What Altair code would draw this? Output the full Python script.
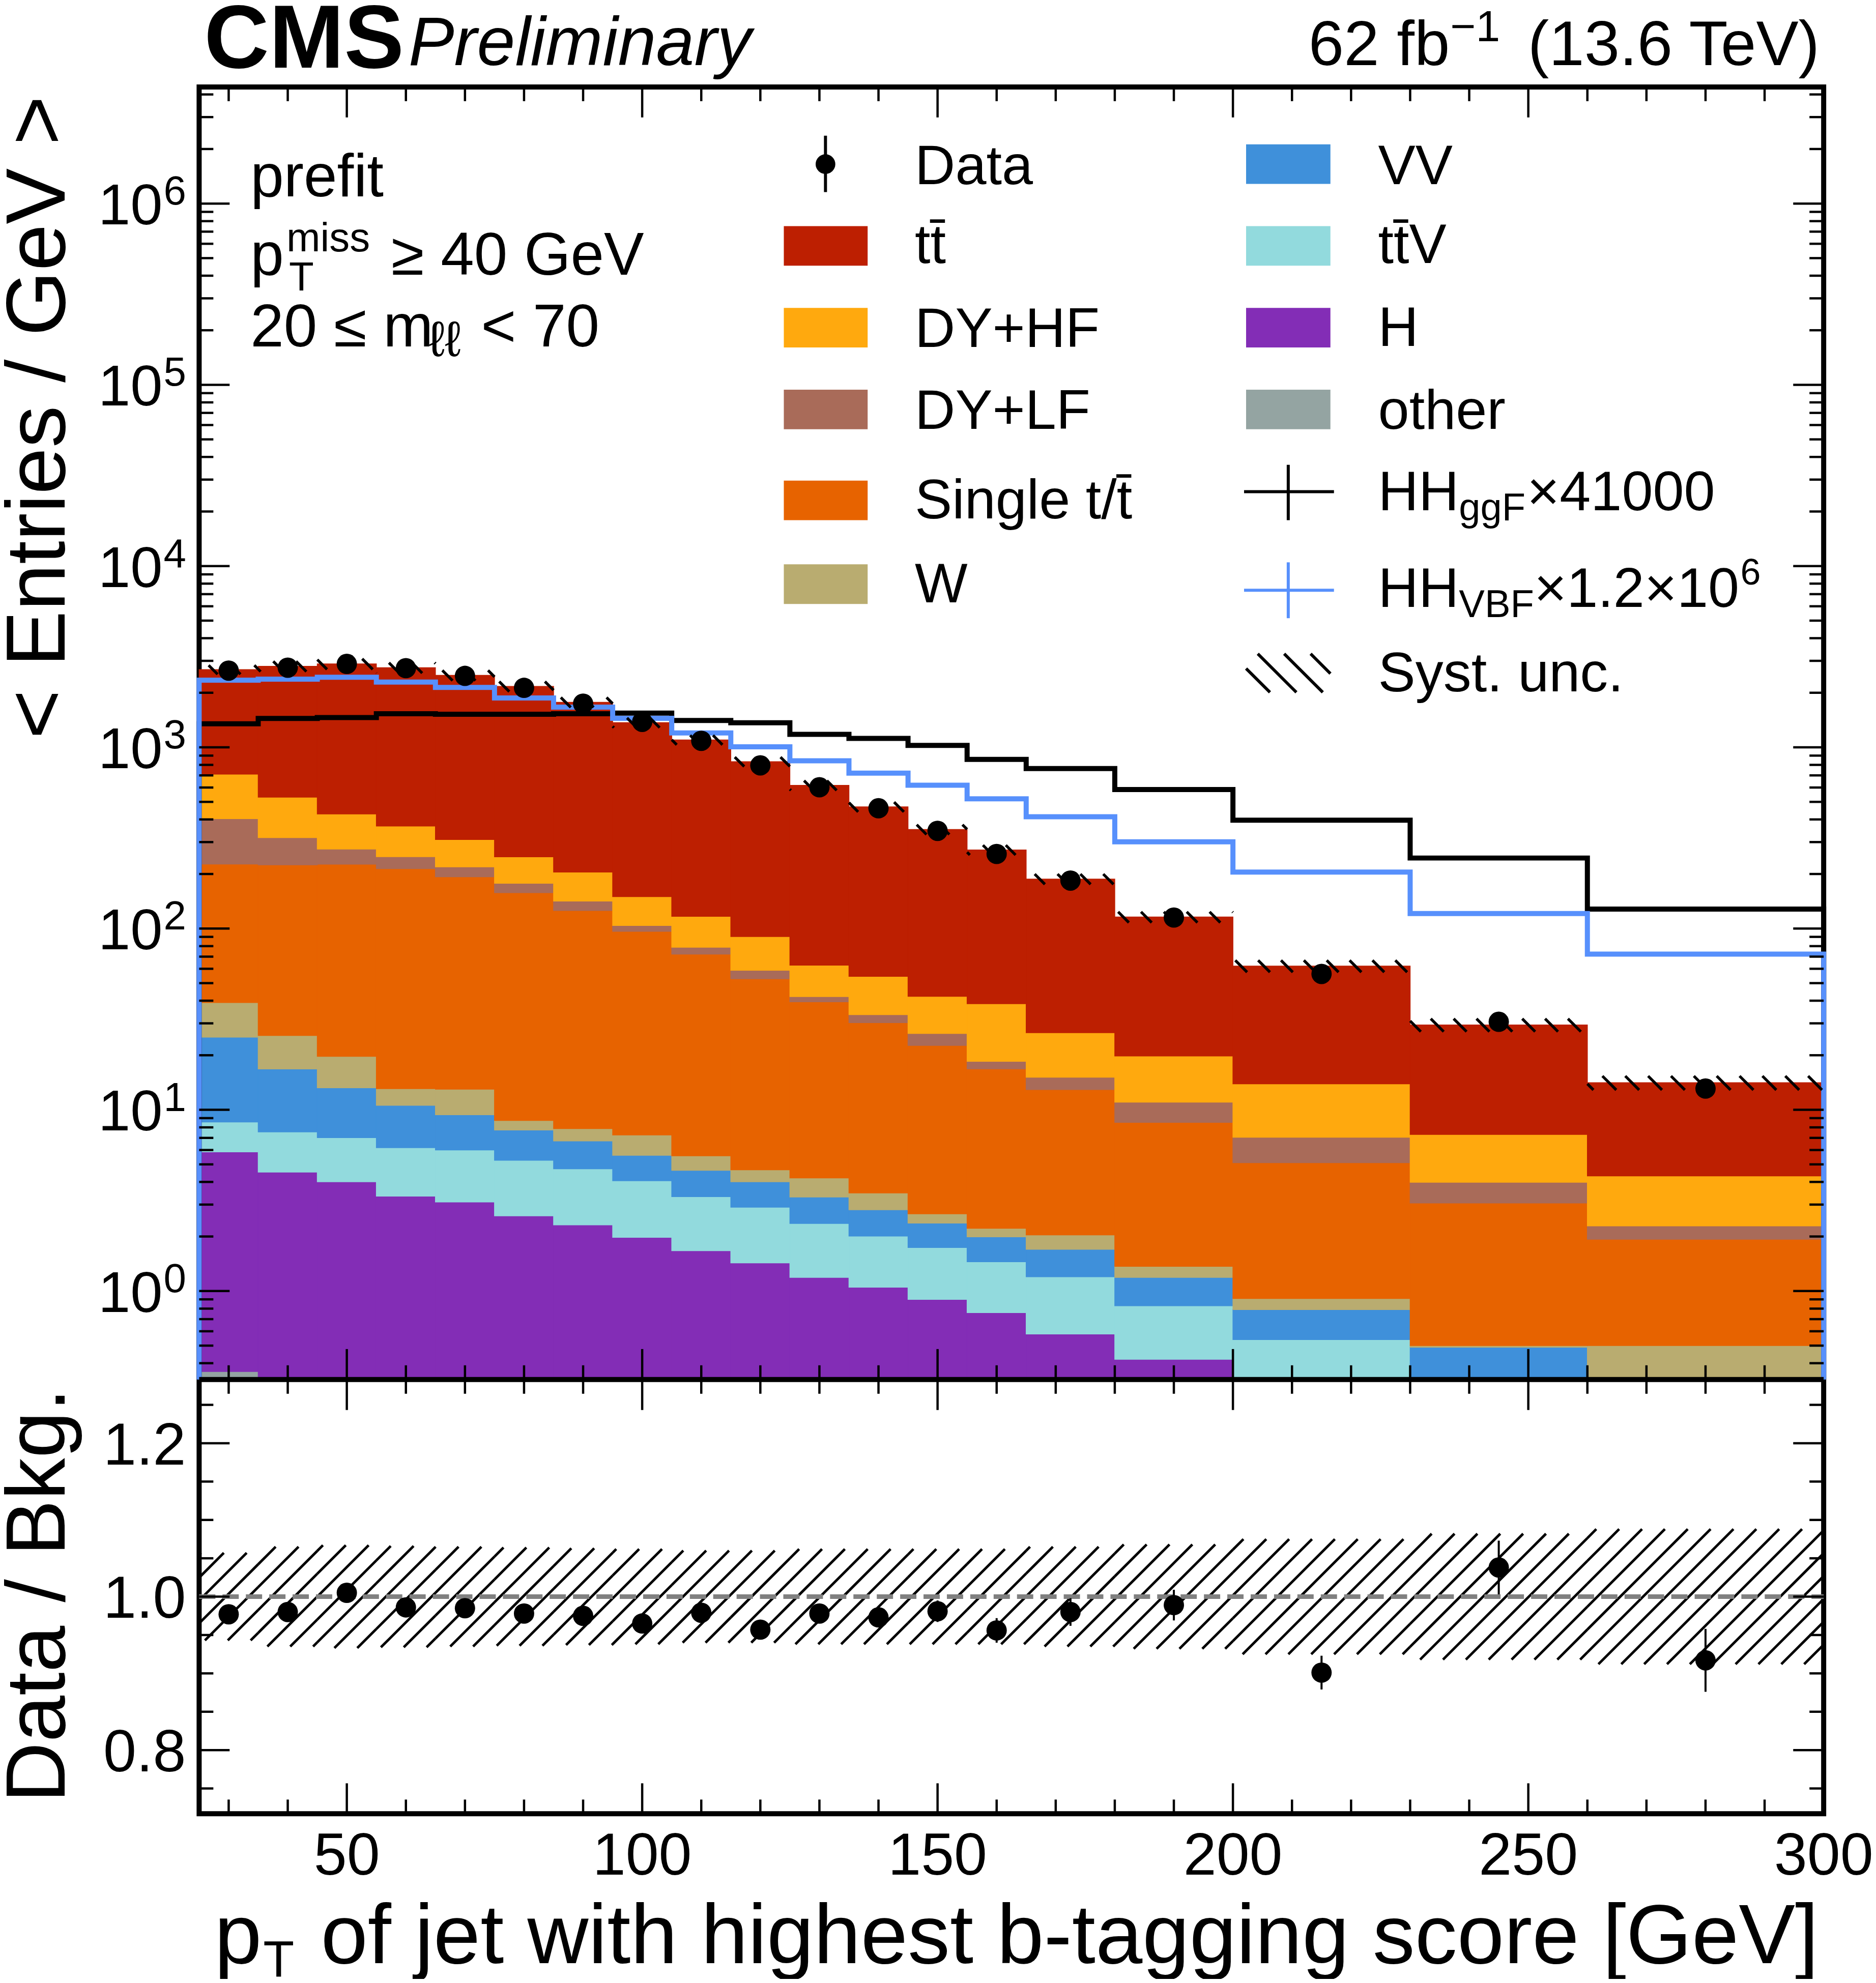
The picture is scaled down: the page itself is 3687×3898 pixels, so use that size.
import numpy as np
import pandas as pd
import altair as alt

FONT = "Liberation Sans"

# binning of the jet pT [GeV]
edges = [25, 35, 45, 55, 65, 75, 85, 95, 105, 115, 125, 135, 145, 155, 165, 180, 200, 230, 260, 300]

# prefit backgrounds, < Entries / GeV >, listed from the bottom of the stack to the top
other = [0.36, 0.1, 0.1, 0.1, 0.1, 0.1, 0.1, 0.1, 0.1, 0.1, 0.1, 0.1, 0.08, 0.07, 0.06, 0.05, 0.05, 0.04, 0.04]
higgs = [5.5, 4.43, 3.91, 3.24, 3.0, 2.5, 2.22, 1.88, 1.57, 1.33, 1.09, 0.95, 0.82, 0.69, 0.52, 0.37, 0.2, 0.1, 0.05]
ttv = [2.7, 3.02, 3.01, 2.84, 2.9, 2.67, 2.41, 2.08, 1.65, 1.47, 1.17, 0.96, 0.84, 0.69, 0.62, 0.41, 0.29, 0.15, 0.1]
vv = [16.6, 9.25, 6.2, 4.4, 3.4, 2.47, 2.0, 1.55, 1.32, 1.11, 0.94, 0.80, 0.63, 0.54, 0.50, 0.36, 0.25, 0.2, 0.145]
wjets = [13.9, 8.9, 6.5, 2.5, 3.6, 1.0, 1.15, 1.65, 0.93, 0.66, 0.91, 0.67, 0.30, 0.23, 0.34, 0.18, 0.12, 0.01, 0.165]
single_t = [188, 199, 207, 201, 180, 149, 118, 89.3, 66.7, 48.2, 35.2, 26.8, 20.0, 14.6, 10.9, 7.15, 4.2, 2.56, 1.43]
dy_lf = [177, 93, 48, 35, 26, 20, 16, 7.4, 6.6, 6.0, 2.7, 3.2, 3.7, 1.7, 2.2, 2.5, 1.95, 0.92, 0.36]
dy_hf = [307, 213, 154, 119, 91, 71, 63, 46, 38, 31.5, 20.7, 21.0, 15.9, 20.0, 11.5, 8.8, 6.84, 3.33, 2.03]
ttbar = [1972, 2269, 2456, 2380, 2185, 1919, 1568, 1218, 982, 743, 554, 415, 310, 233, 161, 96, 48.2, 22.1, 9.8]

data = [2650, 2750, 2885, 2734, 2478, 2129, 1741, 1382, 1086, 795, 602, 461, 346, 258, 184, 115, 56.2, 30.6, 13.1]
hh_ggf = [1348, 1443, 1460, 1532, 1523, 1523, 1532, 1545, 1407, 1366, 1180, 1119, 1024, 858, 763, 585, 396, 245, 128]
hh_vbf = [2346, 2376, 2434, 2290, 2142, 1872, 1667, 1446, 1200, 1006, 843, 720, 618, 520, 414, 301, 205, 121, 72.3]

# lower panel
ratio = [0.977, 0.980, 1.005, 0.986, 0.985, 0.978, 0.975, 0.965, 0.979, 0.957, 0.978, 0.973, 0.981, 0.956, 0.980, 0.989, 0.901, 1.038, 0.917]
ratio_err = [0.005, 0.005, 0.005, 0.005, 0.005, 0.006, 0.006, 0.007, 0.008, 0.009, 0.010, 0.012, 0.014, 0.016, 0.018, 0.020, 0.022, 0.035, 0.041]
syst_unc = [0.057, 0.065, 0.067, 0.066, 0.065, 0.064, 0.063, 0.062, 0.060, 0.060, 0.062, 0.062, 0.062, 0.062, 0.065, 0.068, 0.075, 0.082, 0.088]

stack_names = ["other", "H", "ttV", "VV", "W", "Single t", "DY+LF", "DY+HF", "tt"]
stack_colors = ["#94a4a2", "#832db6", "#92dadd", "#3f90da", "#b9ac70", "#e76300", "#a96b59", "#ffa90e", "#bd1f01"]
stack_vals = [other, higgs, ttv, vv, wjets, single_t, dy_lf, dy_hf, ttbar]

x_labels = [50, 100, 150, 200, 250, 300]
decades = [0, 1, 2, 3, 4, 5, 6]
ratio_labels = [0.8, 1.0, 1.2]

# layout (pixels)
W = 3198
H_MAIN = 2545
H_RATIO = 855
H = H_MAIN + H_RATIO
XMIN, XMAX = 25, 300
YMIN, YMAX = 0.325, 4.4e6
RMIN, RMAX = 0.717, 1.283
HATCH_STEP = 45

x_sc = alt.Scale(domain=[XMIN, XMAX], nice=False, zero=False)
main_y = alt.Scale(type="log", domain=[YMIN, YMAX], range=[H_MAIN, 0], nice=False)
ratio_y = alt.Scale(domain=[RMIN, RMAX], range=[H, H_MAIN], nice=False, zero=False)
proc_sc = alt.Scale(domain=stack_names, range=stack_colors)

nb = len(edges) - 1
L0, L1 = np.log10(YMIN), np.log10(YMAX)


def px_x(x):
    return (x - XMIN) / (XMAX - XMIN) * W


def val_x(p):
    return XMIN + p / W * (XMAX - XMIN)


def px_main(v):
    return (np.log10(v) - L0) / (L1 - L0) * H_MAIN


def val_main(p):
    return 10 ** (L0 + p / H_MAIN * (L1 - L0))


def px_ratio(r):
    return (r - RMIN) / (RMAX - RMIN) * H_RATIO


def val_ratio(p):
    return RMIN + p / H_RATIO * (RMAX - RMIN)


def hatch(xl, xr, ylo, yhi, sign, step=HATCH_STEP):
    # 45 degree lines clipped to a box; sign=+1 -> x = c + y, sign=-1 -> x = c - y
    segs = []
    for c in np.arange(-6000, 6000, step):
        if sign > 0:
            y0, y1 = max(ylo, xl - c), min(yhi, xr - c)
            if y1 > y0:
                segs.append((c + y0, y0, c + y1, y1))
        else:
            y0, y1 = max(ylo, c - xr), min(yhi, c - xl)
            if y1 > y0:
                segs.append((c - y0, y0, c - y1, y1))
    return segs


# ---- stacked backgrounds
rows = []
cum = np.zeros(nb)
for name, vals in zip(stack_names, stack_vals):
    lo = cum.copy()
    cum = cum + np.array(vals, dtype=float)
    for i in range(nb):
        if cum[i] <= YMIN:
            continue
        rows.append(dict(x0=edges[i], x1=edges[i + 1], lo=max(lo[i], YMIN), hi=cum[i], proc=name))
total = cum
stack_df = pd.DataFrame(rows)

layers = []
layers.append(alt.Chart(stack_df).mark_rect(strokeWidth=1.5).encode(
    x=alt.X("x0:Q", scale=x_sc, axis=None), x2="x1",
    y=alt.Y("hi:Q", scale=main_y, axis=None), y2="lo",
    color=alt.Color("proc:N", scale=proc_sc, legend=None),
    stroke=alt.Stroke("proc:N", scale=proc_sc, legend=None)
))

# ---- signal histograms as step outlines
def step_path(vals):
    pts = [(XMIN, YMIN)]
    for i in range(nb):
        pts.append((edges[i], vals[i]))
        pts.append((edges[i + 1], vals[i]))
    pts.append((XMAX, YMIN))
    return pd.DataFrame([dict(i=k, x=p[0], y=p[1]) for k, p in enumerate(pts)])


for vals, col in [(hh_ggf, "black"), (hh_vbf, "#5790fc")]:
    layers.append(alt.Chart(step_path(vals)).mark_line(color=col, strokeWidth=10, strokeJoin="miter").encode(
        x=alt.X("x:Q", scale=x_sc, axis=None),
        y=alt.Y("y:Q", scale=main_y, axis=None),
        order="i:Q"
    ))

# ---- systematic band hatching (main panel: "\", ratio panel: "/")
main_h = []
ratio_h = []
for i in range(nb):
    xl, xr = px_x(edges[i]), px_x(edges[i + 1])
    for s in hatch(xl, xr, px_main(total[i] * (1 - syst_unc[i])), px_main(total[i] * (1 + syst_unc[i])), -1):
        main_h.append(dict(x=val_x(s[0]), y=val_main(s[1]), x2=val_x(s[2]), y2=val_main(s[3])))
    for s in hatch(xl, xr, px_ratio(1 - syst_unc[i]), px_ratio(1 + syst_unc[i]), +1):
        ratio_h.append(dict(x=val_x(s[0]), y=val_ratio(s[1]), x2=val_x(s[2]), y2=val_ratio(s[3])))

layers.append(alt.Chart(pd.DataFrame(main_h)).mark_rule(color="black", strokeWidth=5.5).encode(
    x=alt.X("x:Q", scale=x_sc, axis=None), x2="x2",
    y=alt.Y("y:Q", scale=main_y, axis=None), y2="y2"
))
layers.append(alt.Chart(pd.DataFrame(ratio_h)).mark_rule(color="black", strokeWidth=5).encode(
    x=alt.X("x:Q", scale=x_sc, axis=None), x2="x2",
    y=alt.Y("y:Q", scale=ratio_y, axis=None), y2="y2"
))

# ---- data points
centers = [(edges[i] + edges[i + 1]) / 2 for i in range(nb)]
pts_df = pd.DataFrame(dict(
    x=centers, d=data,
    dlo=[data[i] - ratio_err[i] * total[i] for i in range(nb)],
    dhi=[data[i] + ratio_err[i] * total[i] for i in range(nb)],
    r=ratio,
    rlo=[ratio[i] - ratio_err[i] for i in range(nb)],
    rhi=[ratio[i] + ratio_err[i] for i in range(nb)],
))
layers.append(alt.Chart(pts_df).mark_rule(color="black", strokeWidth=4).encode(
    x=alt.X("x:Q", scale=x_sc, axis=None),
    y=alt.Y("dlo:Q", scale=main_y, axis=None), y2="dhi"
))
layers.append(alt.Chart(pts_df).mark_circle(color="black", opacity=1, size=1600).encode(
    x=alt.X("x:Q", scale=x_sc, axis=None),
    y=alt.Y("d:Q", scale=main_y, axis=None)
))

# ratio panel: reference line, points
layers.append(alt.Chart(pd.DataFrame(dict(x=[XMIN], x2=[XMAX], y=[1.0]))).mark_rule(
    color="#808080", strokeWidth=9, strokeDash=[32, 14]).encode(
    x=alt.X("x:Q", scale=x_sc, axis=None), x2="x2",
    y=alt.Y("y:Q", scale=ratio_y, axis=None)
))
layers.append(alt.Chart(pts_df).mark_rule(color="black", strokeWidth=4).encode(
    x=alt.X("x:Q", scale=x_sc, axis=None),
    y=alt.Y("rlo:Q", scale=ratio_y, axis=None), y2="rhi"
))
layers.append(alt.Chart(pts_df).mark_circle(color="black", opacity=1, size=1600).encode(
    x=alt.X("x:Q", scale=x_sc, axis=None),
    y=alt.Y("r:Q", scale=ratio_y, axis=None)
))

# ---- inward ticks
MAJ, MIN_ = 60, 28
xt = []
for v in range(30, 300, 10):
    ln = MAJ if v % 50 == 0 else MIN_
    for a, b in [(0, ln), (H_MAIN - ln, H_MAIN), (H_MAIN, H_MAIN + ln), (H - ln, H)]:
        xt.append(dict(v=v, a=a, b=b))
layers.append(alt.Chart(pd.DataFrame(xt)).mark_rule(color="black", strokeWidth=4.5).encode(
    x=alt.X("v:Q", scale=x_sc, axis=None),
    y=alt.Y("a:Q", scale=None, axis=None), y2="b"
))

yt = []
for n in range(-1, 7):
    for k in range(1, 10):
        v = k * 10.0 ** n
        if YMIN < v < YMAX:
            ln = MAJ if k == 1 else MIN_
            yt.append(dict(v=v, a=0, b=ln))
            yt.append(dict(v=v, a=W - ln, b=W))
layers.append(alt.Chart(pd.DataFrame(yt)).mark_rule(color="black", strokeWidth=4.5).encode(
    y=alt.Y("v:Q", scale=main_y, axis=None),
    x=alt.X("a:Q", scale=None, axis=None), x2="b"
))

rt = []
for k in range(15, 26):
    v = k * 0.05
    ln = MAJ if k in (16, 20, 24) else MIN_
    rt.append(dict(v=v, a=0, b=ln))
    rt.append(dict(v=v, a=W - ln, b=W))
layers.append(alt.Chart(pd.DataFrame(rt)).mark_rule(color="black", strokeWidth=4.5).encode(
    y=alt.Y("v:Q", scale=ratio_y, axis=None),
    x=alt.X("a:Q", scale=None, axis=None), x2="b"
))

# panel separator
layers.append(alt.Chart(pd.DataFrame(dict(a=[0], b=[W], y=[H_MAIN]))).mark_rule(color="black", strokeWidth=10).encode(
    x=alt.X("a:Q", scale=None, axis=None), x2="b",
    y=alt.Y("y:Q", scale=None, axis=None)
))

# ---- tick labels
layers.append(alt.Chart(pd.DataFrame(dict(v=x_labels, t=[str(v) for v in x_labels]))).mark_text(
    font=FONT, fontSize=117, align="center", baseline="alphabetic", color="black").encode(
    x=alt.X("v:Q", scale=x_sc, axis=None),
    y=alt.value(3520), text="t:N"
))
dec_df = pd.DataFrame(dict(v=[10.0 ** d for d in decades], e=[str(d) for d in decades], t=["10"] * len(decades)))
layers.append(alt.Chart(dec_df).mark_text(
    font=FONT, fontSize=114, align="right", baseline="alphabetic", dy=41, color="black").encode(
    y=alt.Y("v:Q", scale=main_y, axis=None), x=alt.value(-72), text="t:N"
))
layers.append(alt.Chart(dec_df).mark_text(
    font=FONT, fontSize=80, align="left", baseline="alphabetic", dy=2, color="black").encode(
    y=alt.Y("v:Q", scale=main_y, axis=None), x=alt.value(-70), text="e:N"
))
layers.append(alt.Chart(pd.DataFrame(dict(v=ratio_labels, t=["%.1f" % v for v in ratio_labels]))).mark_text(
    font=FONT, fontSize=117, align="right", baseline="alphabetic", dy=42, color="black").encode(
    y=alt.Y("v:Q", scale=ratio_y, axis=None), x=alt.value(-26), text="t:N"
))


# ---- free text (pixel positions relative to the top-left corner of the upper panel)
def text_layer(rows, align="left", **kw):
    df = pd.DataFrame(rows, columns=["t", "x", "y", "s"])
    return alt.Chart(df).mark_text(font=FONT, align=align, baseline="alphabetic", color="black", **kw).encode(
        x=alt.X("x:Q", scale=None, axis=None),
        y=alt.Y("y:Q", scale=None, axis=None),
        text="t:N",
        size=alt.Size("s:Q", scale=None, legend=None)
    )


TT = "t" + "t\u0304"
layers.append(text_layer([("CMS", 10, -38, 177)], fontWeight="bold"))
layers.append(text_layer([("Preliminary", 412, -43, 135)], fontStyle="italic"))
layers.append(text_layer([
    ("62 fb", 2184, -43, 125), ("\u22121", 2463, -90, 86),
    ("prefit", 101, 215, 118),
    ("p", 101, 370, 118), ("miss", 172, 324, 80), ("T", 177, 401, 80), ("\u2265 40 GeV", 378, 370, 118),
    ("20 \u2264 m", 101, 511, 118), ("\u2113\u2113", 452, 530, 98), ("< 70", 555, 511, 118),
    ("Data", 1409, 191, 110), (TT, 1409, 347, 110), ("DY+HF", 1409, 512, 110),
    ("DY+LF", 1409, 673, 110), ("Single t/t\u0304", 1409, 849, 110), ("W", 1409, 1015, 110),
    ("VV", 2321, 191, 110), (TT + "V", 2321, 347, 110), ("H", 2321, 510, 110), ("other", 2321, 673, 110),
    ("HH", 2321, 833, 110), ("ggF", 2480, 853, 76), ("\u00d741000", 2614, 833, 110),
    ("HH", 2321, 1024, 110), ("VBF", 2480, 1044, 76), ("\u00d71.2\u00d710", 2628, 1024, 110), ("6", 3034, 980, 72),
    ("Syst. unc.", 2321, 1190, 110),
    ("p", 30, 3694, 168), ("T", 126, 3720, 100),
]))
layers.append(text_layer([("(13.6 TeV)", 3190, -43, 125),
                          ("of jet with highest b-tagging score [GeV]", 3188, 3694, 166.3)], align="right"))
layers.append(text_layer([("< Entries / GeV >", -265, 18, 165), ("Data / Bkg.", -265, 2562, 165)],
                         align="right", angle=270))

# ---- legend symbols
sw_rows = []
left_rows = ["tt", "DY+HF", "DY+LF", "Single t", "W"]
left_cy = [313, 474, 635, 814, 979]
right_rows = ["VV", "ttV", "H", "other"]
right_cy = [152, 313, 474, 635]
for name, cy in zip(left_rows, left_cy):
    sw_rows.append(dict(proc=name, a=1151, b=1316, y0=cy - 39, y1=cy + 39))
for name, cy in zip(right_rows, right_cy):
    sw_rows.append(dict(proc=name, a=2061, b=2227, y0=cy - 39, y1=cy + 39))
layers.append(alt.Chart(pd.DataFrame(sw_rows)).mark_rect().encode(
    x=alt.X("a:Q", scale=None, axis=None), x2="b",
    y=alt.Y("y0:Q", scale=None, axis=None), y2="y1",
    color=alt.Color("proc:N", scale=proc_sc, legend=None)
))

leg_lines = [
    dict(a=1233, b=1233, y0=96, y1=207, c="black"),
    dict(a=2057, b=2234, y0=797, y1=797, c="black"),
    dict(a=2144, b=2144, y0=744, y1=853, c="black"),
    dict(a=2057, b=2234, y0=991, y1=991, c="#5790fc"),
    dict(a=2144, b=2144, y0=936, y1=1046, c="#5790fc"),
]
for s in hatch(2061, 2227, 1116, 1192, +1, step=52):
    leg_lines.append(dict(a=s[0], y0=s[1], b=s[2], y1=s[3], c="black"))
layers.append(alt.Chart(pd.DataFrame(leg_lines)).mark_rule(strokeWidth=6).encode(
    x=alt.X("a:Q", scale=None, axis=None), x2="b",
    y=alt.Y("y0:Q", scale=None, axis=None), y2="y1",
    color=alt.Color("c:N", scale=None, legend=None)
))
layers.append(alt.Chart(pd.DataFrame(dict(x=[1233], y=[152]))).mark_circle(color="black", opacity=1, size=1500).encode(
    x=alt.X("x:Q", scale=None, axis=None),
    y=alt.Y("y:Q", scale=None, axis=None)
))

chart = alt.layer(*layers).resolve_scale(y="independent").properties(
    width=W, height=H,
    autosize=alt.AutoSizeParams(type="none"),
    padding={"left": 384, "top": 160, "right": 95, "bottom": 322}
).configure_view(stroke="black", strokeWidth=10)

chart.save("out.html", embed_options={"renderer": "svg", "actions": False})
